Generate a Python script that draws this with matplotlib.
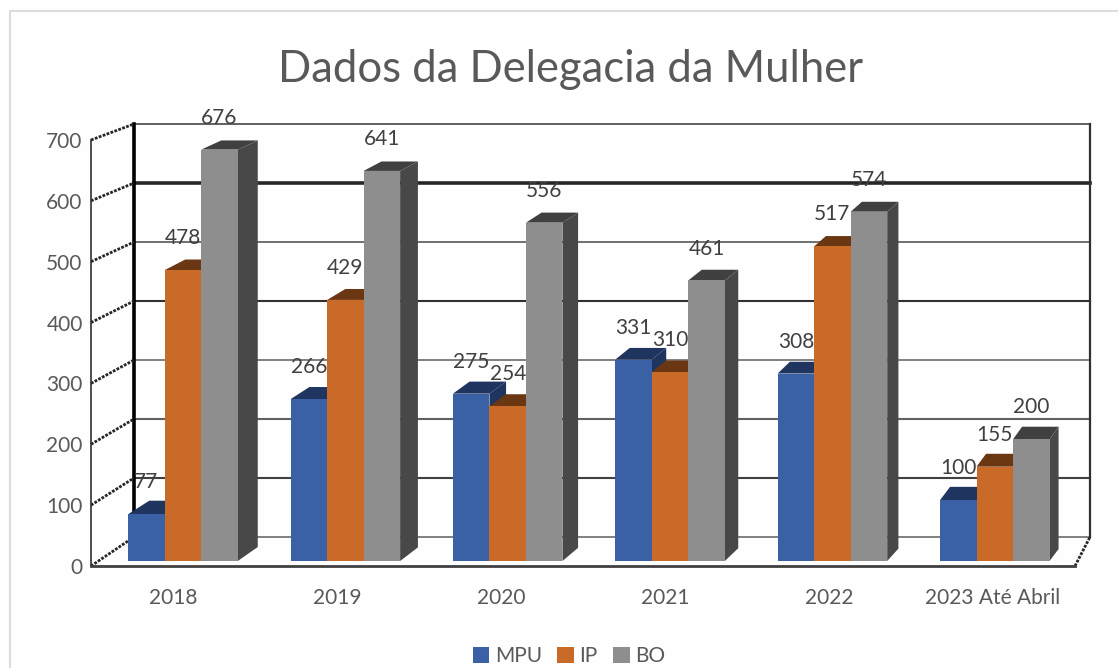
import matplotlib
matplotlib.use("Agg")
import matplotlib.pyplot as plt
from matplotlib.lines import Line2D
from matplotlib.patches import Polygon
from matplotlib.transforms import Affine2D, IdentityTransform

categories = ["2018", "2019", "2020", "2021", "2022", "2023 Até Abril"]
mpu = [77, 266, 275, 331, 308, 100]
ip = [478, 429, 254, 310, 517, 155]
bo = [676, 641, 556, 461, 574, 200]
y_ticks = [0, 100, 200, 300, 400, 500, 600, 700]

W, H = 1118, 668
TEXT = "#595959"
plt.rcParams["font.family"] = "Lato"


def ax_box(left, right, top, bottom):
    return [left / W, 1 - bottom / H, (right - left) / W, (bottom - top) / H]


fig = plt.figure(figsize=(W / 100, H / 100), dpi=100, facecolor="#fefefe")
identity = IdentityTransform()

# frame around the chart
fig.add_artist(Line2D([10 / W, 10 / W, 1], [0, 1 - 11 / H, 1 - 11 / H], color="#d9d9d9", lw=1.3))

# back wall
back = fig.add_axes(ax_box(134, 1090, 124, 537), zorder=1)
back.set_xlim(0, 1)
back.set_ylim(0, 700)
back.axis("off")
wall_styles = {0: ("#808080", 1.4), 100: ("#404040", 1.5), 200: ("#606060", 1.5), 300: ("#808080", 1.4),
               400: ("#303030", 1.5), 500: ("#707070", 1.4), 600: ("#262626", 2.6), 700: ("#606060", 1.4)}
for t in y_ticks:
    back.axhline(t, color=wall_styles[t][0], lw=wall_styles[t][1], clip_on=False)
back.axvline(0, color="black", lw=2.6, clip_on=False)
back.axvline(1, color="#303030", lw=1.6, clip_on=False)

# front plane, holds the bars and the tick labels
ax = fig.add_axes(ax_box(91, 1075, 140, 566), zorder=2)
ax.patch.set_alpha(0)
ax.set_xlim(0, 6)
ax.set_ylim(0, 700)
for side in ["top", "right"]:
    ax.spines[side].set_visible(False)
ax.spines["left"].set_color("#303030")
ax.spines["left"].set_linewidth(1.2)
ax.spines["bottom"].set_color("#404040")
ax.spines["bottom"].set_linewidth(2)
ax.set_xticks([i + 0.5 for i in range(len(categories))], categories)
ax.set_yticks(y_ticks)
ax.tick_params(axis="both", length=0, labelsize=15, labelcolor=TEXT)
ax.tick_params(axis="x", pad=15.5)
ax.tick_params(axis="y", pad=6)

# side wall and floor edges
for t in y_ticks:
    p0 = ax.transData.transform((0, t))
    p1 = back.transData.transform((0, t))
    ax.add_line(Line2D([p0[0], p1[0]], [p0[1], p1[1]], transform=identity, color="#262626",
                       lw=2, ls=(0, (1, 0.5)), clip_on=False, zorder=1))
p0 = ax.transData.transform((6, 0))
p1 = back.transData.transform((1, 0))
ax.add_line(Line2D([p0[0], p1[0]], [p0[1], p1[1]], transform=identity, color="#262626",
                   lw=2, ls=(0, (1, 0.5)), clip_on=False, zorder=1))

# bars stand a little in front of the floor edge
bar_tr = ax.transData + Affine2D().translate(0, 5)
bar_w = 0.2226
series = [("MPU", mpu, "#3A60A5", "#1F3560", "#1F3560"),
          ("IP", ip, "#C96A28", "#6B3612", "#6B3612"),
          ("BO", bo, "#8E8E8E", "#404040", "#484848")]

z = 3
handles = []
for s, (name, values, front, top, dark) in enumerate(series):
    xs = [0.561 + 0.99 * i + (s - 1) * bar_w for i in range(len(values))]
    for x, v in zip(xs, values):
        lb = bar_tr.transform((x - bar_w / 2, 0))
        rb = bar_tr.transform((x + bar_w / 2, 0))
        rt = bar_tr.transform((x + bar_w / 2, v))
        lt = bar_tr.transform((x - bar_w / 2, v))
        dx = 20 - 11 * (rb[0] - 237) / 813
        dy_top = 14 - 5 * v / 700
        dy_bot = 14 - 2 * (rb[0] - 237) / 813
        ax.add_patch(Polygon([lt, rt, (rt[0] + dx, rt[1] + dy_top), (lt[0] + dx, lt[1] + dy_top)],
                             transform=identity, fc=top, ec="none", clip_on=False, zorder=z))
        ax.add_patch(Polygon([rb, rt, (rt[0] + dx, rt[1] + dy_top), (rb[0] + dx, rb[1] + dy_bot)],
                             transform=identity, fc=dark, ec="none", clip_on=False, zorder=z))
    bars = ax.bar(xs, values, bar_w, color=front, label=name, transform=bar_tr,
                  clip_on=False, zorder=z + 0.5)
    handles.append(bars)
    z += 1

for s, (name, values, front, top, dark) in enumerate(series):
    for i, v in enumerate(values):
        x = 0.561 + 0.99 * i + (s - 1) * bar_w
        ax.annotate(str(v), xy=(x, v), xycoords=bar_tr, xytext=(0, 23), textcoords="offset points",
                    ha="center", va="center", fontsize=15, color="#404040", zorder=10,
                    annotation_clip=False)

fig.text(570 / W, 1 - 70 / H, "Dados da Delegacia da Mulher", ha="center", va="center",
         fontsize=31.4, color=TEXT)

fig.legend(handles=handles, loc="center", bbox_to_anchor=(569 / W, 1 - 656 / H), ncol=3, frameon=False,
           fontsize=15, labelcolor=TEXT, handlelength=0.8, handleheight=0.8, handletextpad=0.25,
           columnspacing=0.75, borderpad=0)

fig.savefig("out.png", dpi=100, facecolor=fig.get_facecolor())
